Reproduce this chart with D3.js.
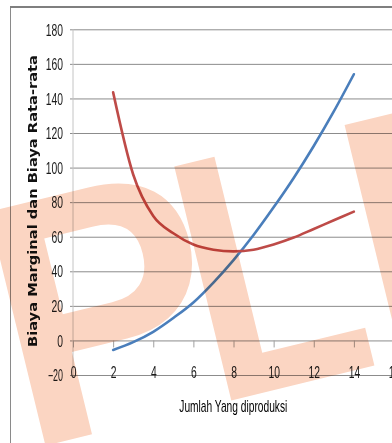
<!DOCTYPE html>
<html>
<head>
<meta charset="utf-8">
<script src="https://cdn.jsdelivr.net/npm/d3@7"></script>
<style>
  html, body { margin: 0; padding: 0; background: #fff; }
  svg { display: block; }
</style>
</head>
<body>
<div id="chart"></div>
<script>
// ---- data ----
const quantities = [2, 3, 4, 5, 6, 7, 8, 9, 10, 11, 12, 13, 14];
const marginalCost = [-5.5, -1, 5, 13, 22, 33.5, 46.5, 61, 77, 94, 112.5, 132.5, 154];
const averageCost = [143.5, 96, 72, 62, 55.5, 52.5, 51.5, 52.5, 55.5, 59.5, 64.5, 69.5, 74.5];
const xTicks = [0, 2, 4, 6, 8, 10, 12, 14, 16];
const yTicks = [-20, 0, 20, 40, 60, 80, 100, 120, 140, 160, 180];
const xTitle = "Jumlah Yang diproduksi";
const yTitle = "Biaya Marginal dan Biaya Rata-rata";
const watermarkA = "P";
const watermarkB = "LE";

const W = 392, H = 443;
const svg = d3.select("#chart").append("svg").attr("width", W).attr("height", H);

const x = d3.scaleLinear().domain([0, 16]).range([73, 394]);
const y = d3.scaleLinear().domain([-20, 180]).range([375, 29.3]);

// outer frame
svg.append("line").attr("x1", 10.5).attr("x2", 10.5).attr("y1", 7).attr("y2", H)
  .attr("stroke", "#8a8a8a").attr("stroke-width", 1);
svg.append("line").attr("x1", 10).attr("x2", W).attr("y1", 7).attr("y2", 7)
  .attr("stroke", "#7f7f7f").attr("stroke-width", 2);

const numFont = "'Liberation Sans Narrow', 'Liberation Sans', Arial, sans-serif";
function labelWidth(s) {
  let w = 0;
  for (const c of s) w += (c === "-") ? 3.6 : 5.75;
  return w;
}

// horizontal gridlines (y axis)
const yAxis = d3.axisLeft(y).tickValues(yTicks).tickSize(-(W - 70)).tickPadding(7)
  .tickFormat(d3.format("d"));
const gy = svg.append("g").attr("transform", "translate(70,0)").call(yAxis);
gy.select(".domain").remove();
gy.selectAll(".tick line").attr("stroke", "#8c8c8c").attr("stroke-width", 1)
  .attr("x1", 0).attr("x2", W - 70);
gy.selectAll(".tick text")
  .attr("x", -7).attr("dy", null).attr("y", 5.7)
  .style("font-family", numFont).style("font-size", "16px").attr("fill", "#1a1a1a")
  .attr("textLength", d => labelWidth(String(d)))
  .attr("lengthAdjust", "spacingAndGlyphs");

// vertical axis line
svg.append("line").attr("x1", x(0)).attr("x2", x(0)).attr("y1", y(180)).attr("y2", y(-20))
  .attr("stroke", "#c4c4c4").attr("stroke-width", 1);

// x axis ticks at y=0
const xAxis = d3.axisBottom(x).tickValues(xTicks).tickSize(7).tickFormat(d3.format("d"));
const gx = svg.append("g").attr("transform", `translate(0,${y(0)})`).call(xAxis);
gx.select(".domain").remove();
gx.selectAll(".tick line").attr("stroke", "#a0a0a0");
gx.selectAll(".tick text")
  .attr("y", 378 - y(0)).attr("dy", null)
  .style("font-family", numFont).style("font-size", "16px").attr("fill", "#1a1a1a")
  .attr("textLength", d => labelWidth(String(d)))
  .attr("lengthAdjust", "spacingAndGlyphs");

// lines
const line = d3.line().x((d, i) => x(quantities[i])).y(d => y(d)).curve(d3.curveCardinal.tension(0));
svg.append("path").datum(marginalCost).attr("d", line)
  .attr("fill", "none").attr("stroke", "#4a7ebb").attr("stroke-width", 2.6).attr("stroke-linecap", "round");
svg.append("path").datum(averageCost).attr("d", line)
  .attr("fill", "none").attr("stroke", "#be4b48").attr("stroke-width", 2.6).attr("stroke-linecap", "round");

// axis titles
svg.append("text").attr("x", 233.3).attr("y", 412).attr("text-anchor", "middle")
  .style("font-family", numFont).style("font-size", "17px").attr("fill", "#000")
  .attr("textLength", 108).attr("lengthAdjust", "spacingAndGlyphs")
  .text(xTitle);
svg.append("text").attr("transform", "translate(36.5,201) rotate(-90)").attr("text-anchor", "middle")
  .style("font-family", "'DejaVu Sans', Verdana, sans-serif").style("font-weight", "bold")
  .style("font-size", "12px").attr("fill", "#111")
  .attr("textLength", 292).attr("lengthAdjust", "spacingAndGlyphs")
  .text(yTitle);

// watermark overlay
const fs = 350;
const wmFont = "'Liberation Sans', Arial, sans-serif";
svg.append("text").attr("transform", "translate(233,400) rotate(-13.7) scale(0.95,1)")
  .attr("x", -190 / 0.95 - 0.076 * fs).attr("y", 0)
  .style("font-family", wmFont).style("font-weight", "bold")
  .style("font-size", fs + "px").attr("fill", "#fbd5c2")
  .style("mix-blend-mode", "multiply")
  .text(watermarkA);
svg.append("text").attr("transform", "translate(233,400) rotate(-13.7) scale(0.82,1)")
  .attr("x", -0.073 * fs).attr("y", 0)
  .style("font-family", wmFont).style("font-weight", "bold")
  .style("font-size", fs + "px").attr("fill", "#fbd5c2")
  .style("mix-blend-mode", "multiply")
  .text(watermarkB);
</script>
</body>
</html>
